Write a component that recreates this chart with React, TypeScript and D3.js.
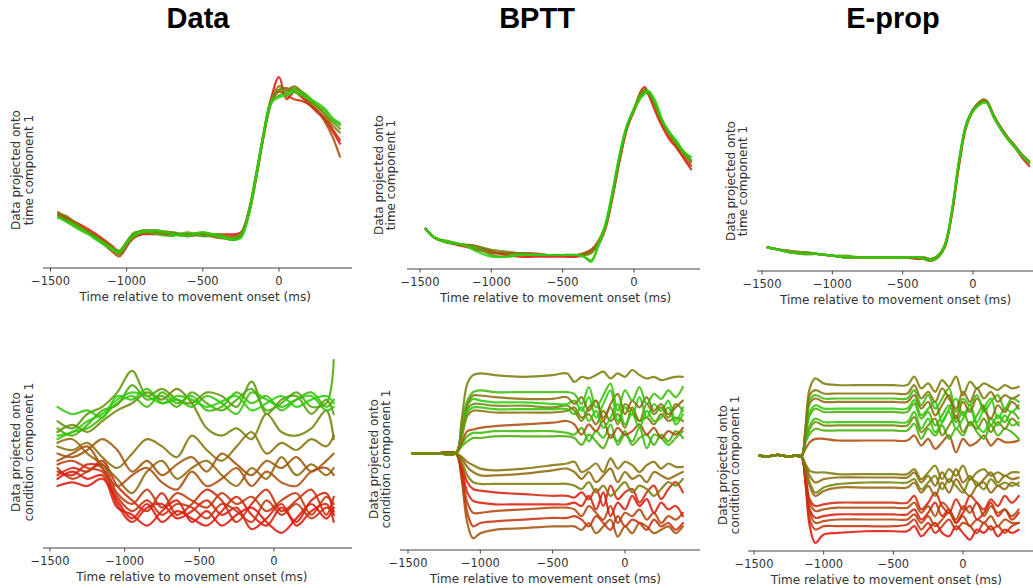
import React from "react";
import * as d3 from "d3";

// panel titles and tick labels
const titles = ["Data", "BPTT", "E-prop"];
const xTicks = [-1500, -1000, -500, 0];
const xLabel = "Time relative to movement onset (ms)";
const yLabelTop = ["Data projected onto", "time component 1"];
const yLabelBottom = ["Data projected onto", "condition component 1"];

// ---- top row: projection onto time component 1 ----
const dataTopTime = [-1450, -1400, -1300, -1200, -1100, -1050, -1000, -950, -900, -800, -700, -600, -500, -400, -300, -250, -200, -150, -100, -50, 0, 50, 100, 150, 200, 250, 300, 350, 400];
const dataTopHue = [0, 0.15, 0.3, 0.5, 0.7, 0.85, 1];
const dataTopLines = [
  [26, 24, 20, 15, 9, 6, 10, 14, 15, 15, 15, 15, 15, 15, 15, 16, 27, 47, 70, 89, 100, 88, 92, 89, 85, 81, 77, 71, 64],
  [25, 23, 18, 14, 8, 5, 9, 13, 15, 16, 15, 14, 15, 14, 14, 15, 26, 46, 69, 87, 92, 90, 88, 87, 85, 82, 78, 72, 66],
  [27, 24, 19, 13, 6, 3, 8, 15, 16, 17, 15, 15, 14, 14, 12, 14, 25, 45, 68, 86, 93, 94, 92, 90, 86, 82, 76, 68, 57],
  [26, 25, 19, 14, 8, 4, 10, 15, 17, 17, 16, 14, 15, 13, 13, 15, 27, 47, 69, 87, 95, 93, 95, 92, 87, 84, 80, 74, 70],
  [24, 23, 18, 13, 7, 5, 11, 16, 16, 16, 16, 15, 16, 14, 12, 14, 26, 46, 70, 88, 93, 92, 94, 91, 88, 84, 80, 76, 72],
  [25, 22, 17, 13, 8, 6, 11, 15, 17, 15, 14, 16, 14, 15, 13, 15, 27, 48, 70, 87, 90, 91, 93, 92, 89, 85, 82, 77, 74],
  [24, 22, 18, 12, 7, 5, 10, 14, 16, 17, 15, 14, 16, 14, 12, 13, 25, 46, 69, 86, 89, 90, 92, 90, 88, 86, 83, 78, 75],
];

const bpttTopTime = [-1460, -1400, -1300, -1200, -1100, -1000, -900, -800, -700, -600, -500, -400, -350, -300, -250, -200, -150, -100, -50, 0, 50, 75, 100, 150, 200, 250, 300, 350, 400];
const bpttTopHue = [0, 0.2, 0.4, 0.6, 0.8, 1];
const bpttTopLines = [
  [19, 14, 11, 10, 9, 6, 4, 3, 3, 3, 3, 3, 4, 6, 10, 19, 37, 58, 76, 87, 98, 100, 96, 86, 77, 70, 65, 59, 53],
  [19, 14, 11, 9, 7, 5, 5, 5, 4, 4, 4, 4, 5, 7, 12, 21, 39, 60, 77, 86, 95, 97, 96, 88, 79, 72, 66, 60, 55],
  [19, 14, 11, 10, 8, 6, 5, 5, 5, 4, 4, 4, 5, 7, 11, 20, 38, 59, 76, 87, 96, 98, 97, 88, 79, 73, 68, 62, 57],
  [19, 14, 11, 10, 9, 7, 6, 5, 4, 4, 4, 4, 4, 5, 11, 21, 39, 60, 77, 87, 97, 99, 97, 89, 80, 74, 68, 63, 58],
  [19, 14, 12, 10, 8, 4, 3, 4, 4, 4, 4, 4, 3, 1, 9, 20, 39, 61, 78, 88, 96, 97, 97, 90, 80, 73, 67, 62, 58],
  [19, 14, 11, 10, 6, 3, 3, 4, 4, 4, 4, 4, 3, 0, 10, 22, 41, 62, 78, 87, 94, 96, 98, 92, 81, 74, 69, 63, 60],
];

const epropTopTime = [-1460, -1400, -1300, -1200, -1100, -1000, -900, -800, -700, -600, -500, -400, -350, -300, -250, -200, -150, -100, -50, 0, 50, 75, 100, 150, 200, 250, 300, 350, 400];
const epropTopHue = [0, 0.25, 0.5, 0.75, 1];
const epropTopLines = [
  [10, 9, 7, 6, 6, 5, 4, 4, 4, 4, 4, 3, 3, 2, 4, 10, 30, 59, 82, 92, 97, 98, 97, 88, 81, 75, 70, 64, 59],
  [10, 9, 7, 7, 6, 5, 4, 4, 4, 4, 4, 4, 3, 2, 4, 11, 31, 60, 83, 93, 98, 99, 98, 89, 82, 76, 71, 65, 61],
  [10, 9, 8, 7, 6, 5, 4, 4, 4, 4, 4, 4, 4, 3, 5, 11, 31, 61, 83, 93, 98, 99, 98, 89, 82, 76, 71, 66, 62],
  [10, 9, 7, 7, 6, 5, 5, 4, 4, 4, 4, 4, 4, 3, 5, 12, 32, 62, 84, 93, 97, 98, 97, 89, 81, 75, 70, 65, 61],
  [10, 9, 7, 6, 6, 5, 4, 4, 4, 4, 4, 4, 3, 2, 4, 11, 32, 62, 83, 92, 96, 97, 97, 88, 81, 75, 70, 65, 61],
];

// ---- bottom row: projection onto condition component 1 ----
const dataBotTime = [-1450, -1350, -1250, -1150, -1050, -950, -850, -750, -650, -550, -450, -350, -250, -150, -50, 50, 150, 250, 350, 400];
const dataBotHue = [0.3, 0.35, 0.45, 0.5, 0.15, 0.05, 0, 0.2, 0.1, 0.02, 1, 0.8, 0.95, 0.7, 0.9, 0.6];
const dataBotLines = [
  [44, 48, 52, 40, 30, 36, 40, 32, 28, 38, 30, 34, 40, 30, 38, 32, 30, 38, 40, 36],
  [48, 46, 50, 56, 50, 38, 44, 36, 42, 46, 38, 48, 42, 36, 44, 40, 46, 38, 44, 48],
  [54, 56, 48, 42, 34, 26, 38, 44, 34, 40, 44, 36, 30, 40, 34, 46, 36, 42, 36, 40],
  [52, 50, 54, 46, 40, 48, 56, 52, 46, 58, 50, 44, 52, 60, 48, 54, 50, 56, 52, 58],
  [42, 44, 40, 38, 24, 16, 22, 14, 20, 18, 12, 20, 16, 10, 22, 14, 20, 12, 18, 16],
  [38, 36, 42, 40, 20, 10, 18, 20, 12, 16, 22, 14, 18, 6, 12, 20, 8, 16, 20, 10],
  [34, 38, 34, 36, 18, 14, 8, 16, 22, 10, 16, 8, 14, 18, 10, 4, 12, 20, 12, 18],
  [40, 34, 38, 42, 26, 20, 28, 18, 26, 22, 18, 26, 20, 24, 16, 22, 26, 14, 24, 20],
  [36, 40, 38, 44, 30, 22, 16, 26, 14, 20, 28, 22, 10, 20, 28, 16, 22, 28, 14, 24],
  [30, 32, 30, 34, 22, 12, 20, 10, 16, 12, 8, 16, 24, 14, 8, 18, 10, 22, 26, 14],
  [58, 60, 66, 70, 78, 82, 80, 76, 80, 78, 74, 77, 80, 72, 76, 80, 74, 78, 80, 76],
  [62, 58, 64, 72, 75, 86, 78, 80, 74, 82, 76, 72, 78, 84, 72, 76, 82, 74, 76, 100],
  [74, 70, 72, 68, 80, 78, 84, 76, 78, 74, 80, 76, 70, 82, 78, 74, 78, 80, 72, 74],
  [66, 62, 70, 74, 82, 94, 80, 84, 78, 76, 82, 80, 74, 88, 70, 78, 80, 70, 78, 70],
  [56, 60, 62, 68, 76, 80, 74, 82, 76, 80, 72, 74, 82, 76, 80, 72, 78, 82, 74, 78],
  [60, 64, 60, 66, 72, 76, 82, 78, 84, 76, 62, 58, 62, 56, 70, 60, 58, 62, 72, 56],
];

const bpttBotTime = [-1470, -1300, -1170, -1130, -1090, -1050, -1000, -900, -700, -500, -400, -350, -300, -250, -200, -150, -100, -50, 0, 50, 100, 150, 200, 250, 300, 350, 400];
const bpttBotHue = [0.55, 0.9, 0.45, 1, 0.6, 0.95, 0.5, 0.3, 0.9, 0.8, 0.5, 0.45, 0.55, 0.08, 0.03, 0.25, 0.15, 0.35];
const bpttBotLines = [
  [51, 51, 51, 70, 92, 97, 98, 97, 96, 97, 98, 93, 96, 95, 97, 99, 95, 98, 96, 100, 97, 95, 96, 94, 95, 96, 96],
  [51, 51, 51, 66, 82, 87, 88, 87, 87, 87, 87, 86, 80, 90, 78, 85, 92, 76, 88, 82, 90, 80, 86, 83, 88, 84, 90],
  [51, 51, 51, 64, 80, 85, 85, 84, 83, 83, 84, 80, 84, 76, 82, 70, 80, 86, 74, 82, 78, 84, 76, 80, 74, 78, 82],
  [51, 51, 51, 63, 79, 83, 82, 81, 81, 80, 80, 82, 76, 84, 72, 80, 88, 70, 78, 74, 84, 72, 80, 76, 82, 70, 78],
  [51, 51, 51, 62, 77, 80, 80, 79, 79, 78, 79, 76, 70, 78, 82, 72, 78, 68, 80, 76, 70, 80, 74, 78, 72, 80, 76],
  [51, 51, 51, 61, 75, 78, 78, 77, 77, 77, 77, 74, 78, 70, 76, 66, 72, 80, 68, 74, 66, 76, 70, 72, 78, 68, 74],
  [51, 51, 51, 60, 73, 76, 76, 75, 75, 75, 76, 78, 72, 74, 68, 76, 70, 74, 66, 78, 70, 72, 68, 74, 70, 72, 70],
  [51, 51, 51, 57, 64, 65, 66, 67, 68, 69, 70, 68, 62, 68, 64, 70, 60, 66, 62, 64, 68, 62, 66, 60, 64, 62, 66],
  [51, 51, 51, 56, 61, 63, 63, 64, 64, 64, 63, 62, 66, 58, 64, 60, 68, 56, 62, 58, 66, 54, 62, 60, 56, 60, 64],
  [51, 51, 51, 55, 58, 60, 60, 61, 61, 61, 61, 60, 56, 62, 58, 54, 62, 58, 64, 56, 60, 62, 56, 62, 58, 64, 60],
  [51, 51, 51, 49, 46, 44, 42, 41, 42, 44, 45, 46, 40, 42, 45, 40, 48, 42, 46, 44, 40, 44, 46, 42, 45, 43, 43],
  [51, 51, 51, 48, 43, 40, 38, 38, 39, 41, 42, 40, 36, 40, 34, 38, 42, 34, 40, 36, 38, 34, 40, 38, 36, 38, 40],
  [51, 51, 51, 46, 38, 34, 33, 33, 33, 33, 33, 32, 30, 34, 28, 32, 26, 30, 34, 28, 32, 30, 26, 30, 34, 32, 36],
  [51, 51, 51, 44, 34, 30, 29, 28, 27, 26, 26, 25, 28, 24, 30, 20, 32, 24, 28, 30, 22, 28, 32, 24, 30, 34, 28],
  [51, 51, 51, 42, 28, 23, 22, 21, 21, 21, 21, 22, 20, 26, 18, 28, 14, 22, 18, 26, 20, 24, 16, 22, 18, 20, 14],
  [51, 51, 51, 40, 22, 16, 16, 17, 18, 19, 19, 18, 14, 20, 16, 12, 20, 10, 16, 14, 18, 12, 16, 10, 14, 12, 16],
  [51, 51, 51, 38, 16, 8, 10, 11, 12, 13, 13, 14, 12, 8, 14, 10, 6, 14, 8, 12, 10, 6, 12, 8, 10, 6, 10],
  [51, 51, 51, 36, 10, 1, 4, 6, 7, 8, 8, 8, 6, 10, 4, 8, 12, 2, 8, 4, 10, 8, 4, 6, 8, 4, 8],
];

const epropBotTime = [-1460, -1400, -1330, -1260, -1200, -1160, -1130, -1100, -1060, -1000, -900, -700, -500, -400, -350, -300, -250, -200, -150, -100, -50, 0, 50, 100, 150, 200, 250, 300, 350, 400];
const epropBotHue = [0.55, 0.5, 0.9, 0.45, 1, 0.8, 0.95, 0.6, 0.85, 0.3, 0.55, 0.45, 0.6, 0.4, 0.1, 0.3, 0.05, 0.25, 0.15, 0];
const epropBotLines = [
  [52, 51.5, 52.5, 51.5, 52, 51.5, 70, 92, 98, 95, 94, 94, 94, 94, 99, 92, 95, 90, 97, 93, 99, 88, 96, 92, 95, 93, 91, 94, 92, 93],
  [52, 51.5, 52.5, 51.5, 52, 51.5, 68, 88, 91, 89, 89, 89, 89, 89, 94, 86, 90, 84, 92, 86, 80, 90, 84, 92, 86, 90, 84, 88, 86, 88],
  [52, 51.5, 52.5, 51.5, 52, 51.5, 67, 85, 88, 86, 86, 86, 86, 86, 91, 82, 88, 80, 86, 92, 78, 86, 82, 88, 78, 84, 88, 80, 86, 84],
  [52, 51.5, 52.5, 51.5, 52, 51.5, 66, 83, 86, 84, 84, 84, 84, 84, 88, 80, 84, 76, 82, 88, 74, 84, 78, 86, 80, 74, 82, 78, 84, 80],
  [52, 51.5, 52.5, 51.5, 52, 51.5, 65, 78, 82, 80, 80, 80, 80, 80, 85, 76, 80, 84, 72, 80, 86, 76, 82, 72, 80, 86, 74, 80, 78, 82],
  [52, 51.5, 52.5, 51.5, 52, 51.5, 64, 76, 80, 78, 78, 78, 78, 78, 83, 74, 78, 70, 76, 82, 72, 78, 70, 76, 82, 70, 76, 72, 78, 74],
  [52, 51.5, 52.5, 51.5, 52, 51.5, 62, 70, 74, 72, 72, 72, 72, 72, 78, 68, 74, 66, 72, 78, 68, 74, 80, 70, 66, 74, 70, 76, 70, 72],
  [52, 51.5, 52.5, 51.5, 52, 51.5, 61, 68, 72, 70, 70, 70, 70, 70, 75, 66, 70, 74, 64, 70, 76, 66, 72, 68, 74, 66, 72, 68, 74, 70],
  [52, 51.5, 52.5, 51.5, 52, 51.5, 60, 65, 68, 67, 67, 67, 67, 67, 71, 62, 68, 64, 70, 62, 68, 64, 72, 66, 62, 70, 64, 68, 66, 62],
  [52, 51.5, 52.5, 51.5, 52, 51.5, 56, 60, 62, 62, 61, 61, 61, 61, 64, 58, 62, 56, 60, 64, 54, 62, 58, 60, 64, 58, 62, 60, 60, 61],
  [52, 51.5, 52.5, 51.5, 52, 51.5, 47, 43, 42, 42, 41, 41, 41, 41, 44, 38, 42, 46, 38, 44, 40, 46, 38, 42, 44, 40, 42, 40, 42, 42],
  [52, 51.5, 52.5, 51.5, 52, 51.5, 46, 40, 36, 38, 39, 39, 39, 39, 42, 36, 40, 34, 42, 36, 44, 36, 40, 34, 38, 42, 36, 40, 38, 39],
  [52, 51.5, 52.5, 51.5, 52, 51.5, 45, 36, 30, 33, 35, 36, 36, 36, 38, 32, 36, 40, 32, 38, 34, 30, 38, 36, 32, 38, 34, 36, 34, 36],
  [52, 51.5, 52.5, 51.5, 52, 51.5, 44, 34, 28, 31, 33, 33, 33, 33, 36, 30, 34, 28, 36, 30, 38, 32, 28, 34, 36, 30, 34, 32, 36, 34],
  [52, 51.5, 52.5, 51.5, 52, 51.5, 40, 26, 22, 23, 24, 24, 24, 24, 28, 20, 24, 30, 22, 18, 26, 20, 28, 24, 20, 26, 22, 28, 24, 28],
  [52, 51.5, 52.5, 51.5, 52, 51.5, 39, 24, 19, 20, 21, 21, 21, 21, 24, 18, 22, 16, 24, 20, 14, 22, 18, 24, 16, 22, 18, 20, 16, 20],
  [52, 51.5, 52.5, 51.5, 52, 51.5, 38, 20, 15, 16, 17, 17, 17, 17, 20, 14, 18, 24, 16, 20, 12, 18, 22, 14, 18, 24, 16, 20, 14, 18],
  [52, 51.5, 52.5, 51.5, 52, 51.5, 37, 18, 12, 13, 14, 14, 14, 14, 17, 12, 16, 10, 14, 18, 12, 16, 10, 14, 12, 16, 10, 14, 12, 12],
  [52, 51.5, 52.5, 51.5, 52, 51.5, 36, 14, 8, 10, 10, 10, 10, 11, 14, 8, 12, 6, 10, 14, 8, 12, 10, 6, 12, 8, 10, 6, 10, 12],
  [52, 51.5, 52.5, 51.5, 52, 51.5, 35, 10, 0, 5, 6, 7, 7, 7, 10, 4, 8, 12, 6, 4, 10, 6, 2, 8, 6, 10, 4, 8, 6, 8],
];

const condColor = d3.interpolateRgb("#e3180f", "#2ad00c");

type PanelSpec = {
  time: number[];
  lines: number[][];
  hue: number[];
  xPx: [number, number]; // pixel of -1500 and 0
  yPx: [number, number]; // pixel of value 0 and 100
  axisY: number;
  axisX: [number, number];
  labX: [number, number];
  labY: number;
  ylab: string[];
  reverse: boolean;
};

const panels: PanelSpec[] = [
  { time: dataTopTime, lines: dataTopLines, hue: dataTopHue, xPx: [50.5, 279], yPx: [262, 77], axisY: 268, axisX: [43, 352], labX: [20, 33], labY: 170, ylab: yLabelTop, reverse: false },
  { time: bpttTopTime, lines: bpttTopLines, hue: bpttTopHue, xPx: [420, 634], yPx: [262, 87], axisY: 269, axisX: [407, 700], labX: [383, 395], labY: 175, ylab: yLabelTop, reverse: false },
  { time: epropTopTime, lines: epropTopLines, hue: epropTopHue, xPx: [762, 973], yPx: [264, 98], axisY: 271, axisX: [757, 1033], labX: [735, 747], labY: 181, ylab: yLabelTop, reverse: false },
  { time: dataBotTime, lines: dataBotLines, hue: dataBotHue, xPx: [50, 274], yPx: [540, 360], axisY: 548, axisX: [43, 352], labX: [20, 33], labY: 452, ylab: yLabelBottom, reverse: true },
  { time: bpttBotTime, lines: bpttBotLines, hue: bpttBotHue, xPx: [408, 625], yPx: [540, 370], axisY: 550, axisX: [400, 700], labX: [378, 390], labY: 459, ylab: yLabelBottom, reverse: true },
  { time: epropBotTime, lines: epropBotLines, hue: epropBotHue, xPx: [754, 963], yPx: [543, 375], axisY: 551, axisX: [748, 1033], labX: [727, 739], labY: 465, ylab: yLabelBottom, reverse: true },
];

const titleX = [198, 537, 893];
const font = "DejaVu Sans, sans-serif";

const Panel = ({ p }: { p: PanelSpec }) => {
  const x = d3.scaleLinear().domain([-1500, 0]).range(p.xPx);
  const y = d3.scaleLinear().domain([0, 100]).range(p.yPx);
  const line = d3
    .line<number>()
    .x((_, i) => x(p.time[i]))
    .y((d) => y(d))
    .curve(d3.curveCatmullRom.alpha(0.5));

  const order = p.lines.map((_, i) => i);
  if (p.reverse) order.reverse();

  return (
    <g>
      {order.map((i) => (
        <path
          key={i}
          d={line(p.lines[i]) || ""}
          fill="none"
          stroke={condColor(p.hue[i])}
          strokeWidth={2.2}
          strokeOpacity={0.88}
          strokeLinejoin="round"
          strokeLinecap="round"
        />
      ))}
      <line x1={p.axisX[0]} x2={p.axisX[1]} y1={p.axisY} y2={p.axisY} stroke="#444" strokeWidth={1} />
      {xTicks.map((t) => (
        <g key={t} transform={`translate(${x(t)},${p.axisY})`}>
          <line y1={0} y2={3.5} stroke="#444" />
          <text y={17} textAnchor="middle" fontSize={11.5} fill="#333" fontFamily={font}>
            {t < 0 ? `\u2212${Math.abs(t)}` : t}
          </text>
        </g>
      ))}
      <text x={x(-550)} y={p.axisY + 33} textAnchor="middle" fontSize={12} fill="#333" fontFamily={font}>
        {xLabel}
      </text>
      {p.ylab.map((s, k) => (
        <text
          key={k}
          transform={`translate(${p.labX[k]},${p.labY}) rotate(-90)`}
          textAnchor="middle"
          fontSize={12}
          fill="#333"
          fontFamily={font}
        >
          {s}
        </text>
      ))}
    </g>
  );
};

const App = () => (
  <svg width={1033} height={588} style={{ position: "absolute", left: 0, top: 0, background: "#fff" }}>
    <rect width={1033} height={588} fill="#fff" />
    {titles.map((t, i) => (
      <text key={t} x={titleX[i]} y={28} textAnchor="middle" fontSize={29} fontWeight="bold" fontFamily="Liberation Sans, Arial, sans-serif" fill="#000">
        {t}
      </text>
    ))}
    {panels.map((p, i) => (
      <Panel key={i} p={p} />
    ))}
  </svg>
);

export default App;
